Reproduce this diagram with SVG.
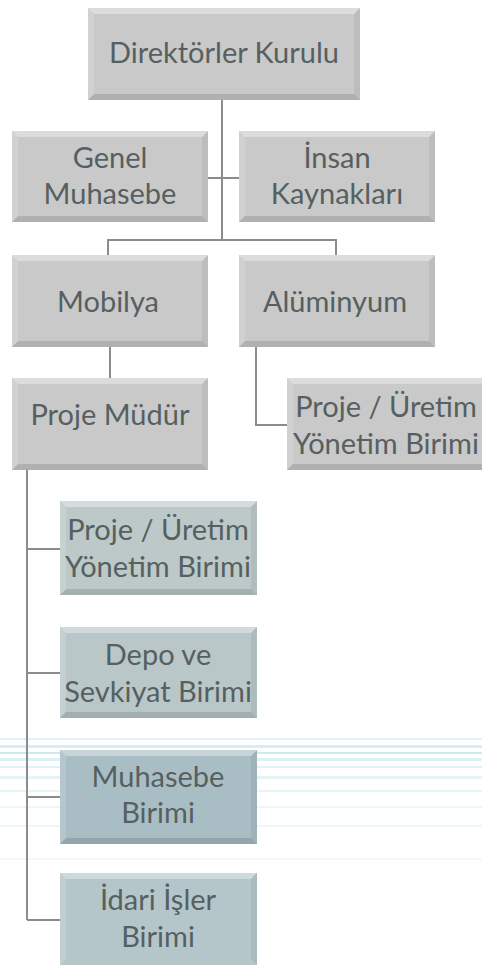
<svg xmlns="http://www.w3.org/2000/svg" width="482" height="965" viewBox="0 0 482 965">
<style>
.t{font-family:Lato,"Open Sans","Liberation Sans",sans-serif;font-size:29px;fill:#566060;text-anchor:middle}
.ln{stroke:#8c8c8c;stroke-width:2;fill:none}
.hi{fill:#ffffff;opacity:.35}
.sh{fill:#000000;opacity:.12}
.sd{fill:#ffffff;opacity:.15}
.sr{fill:#000000;opacity:.06}
.g{fill:#c9c9c9}
.b1{fill:#bdc9c9}
.b2{fill:#b9c7c9}
.b3{fill:#a9bec4}
.b4{fill:#b5c6ca}
.st{fill:#cdeaf1}
</style>
<rect width="482" height="965" fill="#ffffff"/>
<g id="bg-stripes">
<rect class="st" x="0" y="738" width="482" height="2" opacity=".6"/>
<rect class="st" x="0" y="745" width="482" height="3" opacity=".8"/>
<rect class="st" x="0" y="752" width="482" height="2"/>
<rect class="st" x="0" y="758" width="482" height="3" opacity=".7"/>
<rect class="st" x="0" y="766" width="482" height="2" opacity=".6"/>
<rect class="st" x="0" y="776" width="482" height="3" opacity=".5"/>
<rect class="st" x="0" y="790" width="482" height="2" opacity=".5"/>
<rect class="st" x="0" y="806" width="482" height="2" opacity=".4"/>
<rect class="st" x="0" y="825" width="482" height="2" opacity=".4"/>
<rect class="st" x="0" y="858" width="482" height="2" opacity=".3"/>
</g>
<g id="connectors">
<path class="ln" d="M222 100 V240 M108 256 V240 H336 V256"/>
<path class="ln" d="M208 178 H239"/>
<path class="ln" d="M110 347 V378"/>
<path class="ln" d="M256 347 V425 H287"/>
<path class="ln" d="M27 470 V920 M27 549 H60 M27 673 H60 M27 797 H60 M27 920 H60"/>
</g>
<g id="n-direktorler">
<rect class="g" x="88" y="8" width="272" height="92"/>
<polygon class="hi" points="88,8 360,8 354,14 94,14"/>
<polygon class="sd" points="88,8 94,14 94,94 88,100"/>
<polygon class="sh" points="88,100 94,94 354,94 360,100"/>
<polygon class="sr" points="360,8 360,100 354,94 354,14"/>
<text class="t" x="224" y="63">Direktörler Kurulu</text>
</g>
<g id="n-genel-muhasebe">
<rect class="g" x="12" y="131" width="196" height="91"/>
<polygon class="hi" points="12,131 208,131 202,137 18,137"/>
<polygon class="sd" points="12,131 18,137 18,216 12,222"/>
<polygon class="sh" points="12,222 18,216 202,216 208,222"/>
<polygon class="sr" points="208,131 208,222 202,216 202,137"/>
<text class="t" x="110" y="168">Genel</text>
<text class="t" x="110" y="204">Muhasebe</text>
</g>
<g id="n-insan-kaynaklari">
<rect class="g" x="239" y="131" width="196" height="91"/>
<polygon class="hi" points="239,131 435,131 429,137 245,137"/>
<polygon class="sd" points="239,131 245,137 245,216 239,222"/>
<polygon class="sh" points="239,222 245,216 429,216 435,222"/>
<polygon class="sr" points="435,131 435,222 429,216 429,137"/>
<text class="t" x="337" y="168">İnsan</text>
<text class="t" x="337" y="204">Kaynakları</text>
</g>
<g id="n-mobilya">
<rect class="g" x="12" y="255" width="196" height="92"/>
<polygon class="hi" points="12,255 208,255 202,261 18,261"/>
<polygon class="sd" points="12,255 18,261 18,341 12,347"/>
<polygon class="sh" points="12,347 18,341 202,341 208,347"/>
<polygon class="sr" points="208,255 208,347 202,341 202,261"/>
<text class="t" x="108" y="312">Mobilya</text>
</g>
<g id="n-aluminyum">
<rect class="g" x="239" y="255" width="196" height="92"/>
<polygon class="hi" points="239,255 435,255 429,261 245,261"/>
<polygon class="sd" points="239,255 245,261 245,341 239,347"/>
<polygon class="sh" points="239,347 245,341 429,341 435,347"/>
<polygon class="sr" points="435,255 435,347 429,341 429,261"/>
<text class="t" x="335" y="312">Alüminyum</text>
</g>
<g id="n-proje-mudur">
<rect class="g" x="12" y="378" width="196" height="92"/>
<polygon class="hi" points="12,378 208,378 202,384 18,384"/>
<polygon class="sd" points="12,378 18,384 18,464 12,470"/>
<polygon class="sh" points="12,470 18,464 202,464 208,470"/>
<polygon class="sr" points="208,378 208,470 202,464 202,384"/>
<text class="t" x="110" y="425">Proje Müdür</text>
</g>
<g id="n-proje-uretim-alu">
<rect class="g" x="287" y="378" width="200" height="92"/>
<polygon class="hi" points="287,378 487,378 481,384 293,384"/>
<polygon class="sd" points="287,378 293,384 293,464 287,470"/>
<polygon class="sh" points="287,470 293,464 481,464 487,470"/>
<text class="t" x="386" y="417">Proje / Üretim</text>
<text class="t" x="386" y="454">Yönetim Birimi</text>
</g>
<g id="n-proje-uretim">
<rect class="b1" x="60" y="501" width="197" height="94"/>
<polygon class="hi" points="60,501 257,501 251,507 66,507"/>
<polygon class="sd" points="60,501 66,507 66,589 60,595"/>
<polygon class="sh" points="60,595 66,589 251,589 257,595"/>
<polygon class="sr" points="257,501 257,595 251,589 251,507"/>
<text class="t" x="158" y="540">Proje / Üretim</text>
<text class="t" x="158" y="577">Yönetim Birimi</text>
</g>
<g id="n-depo-sevkiyat">
<rect class="b2" x="60" y="627" width="197" height="91"/>
<polygon class="hi" points="60,627 257,627 251,633 66,633"/>
<polygon class="sd" points="60,627 66,633 66,712 60,718"/>
<polygon class="sh" points="60,718 66,712 251,712 257,718"/>
<polygon class="sr" points="257,627 257,718 251,712 251,633"/>
<text class="t" x="158" y="665">Depo ve</text>
<text class="t" x="158" y="702">Sevkiyat Birimi</text>
</g>
<g id="n-muhasebe-birimi">
<rect class="b3" x="60" y="750" width="197" height="94"/>
<polygon class="hi" points="60,750 257,750 251,756 66,756"/>
<polygon class="sd" points="60,750 66,756 66,838 60,844"/>
<polygon class="sh" points="60,844 66,838 251,838 257,844"/>
<polygon class="sr" points="257,750 257,844 251,838 251,756"/>
<text class="t" x="158" y="787">Muhasebe</text>
<text class="t" x="158" y="823">Birimi</text>
</g>
<g id="n-idari-isler">
<rect class="b4" x="60" y="873" width="197" height="92"/>
<polygon class="hi" points="60,873 257,873 251,879 66,879"/>
<polygon class="sd" points="60,873 66,879 66,959 60,965"/>
<polygon class="sr" points="257,873 257,965 251,959 251,879"/>
<text class="t" x="158" y="910">İdari İşler</text>
<text class="t" x="158" y="947">Birimi</text>
</g>
</svg>
